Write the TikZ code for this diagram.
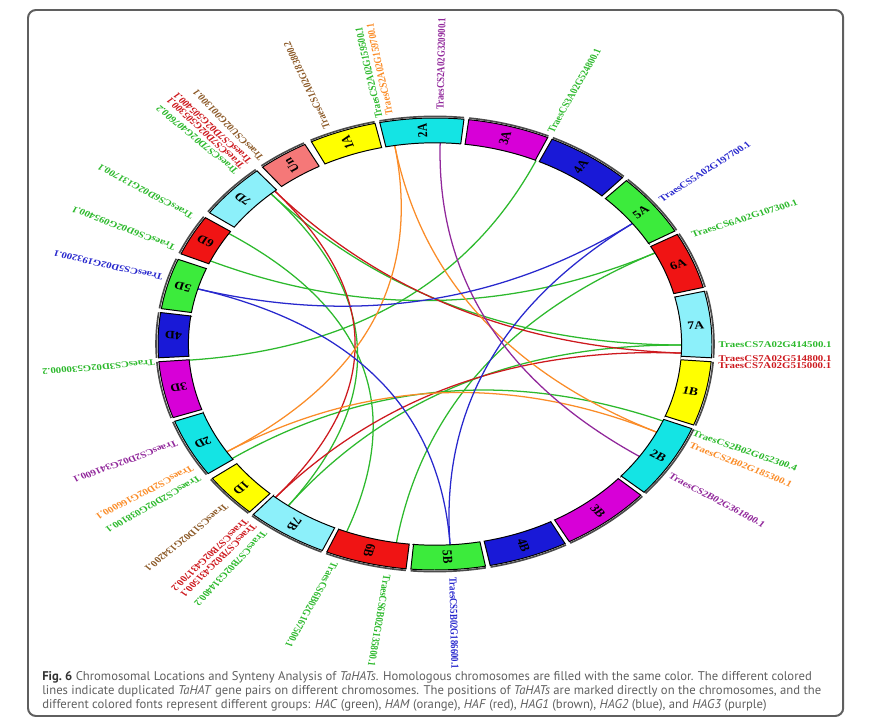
\documentclass[tikz,border=0pt]{standalone}
\usepackage{fontspec}
\setmainfont{Liberation Serif}
\newfontfamily\capfont{PT Sans}
\usetikzlibrary{calc}

% chromosome fills
\definecolor{chone}{RGB}{255,255,0}
\definecolor{chtwo}{RGB}{20,228,228}
\definecolor{chthree}{RGB}{215,0,215}
\definecolor{chfour}{RGB}{25,25,215}
\definecolor{chfive}{RGB}{60,235,60}
\definecolor{chsix}{RGB}{240,20,20}
\definecolor{chseven}{RGB}{140,240,250}
\definecolor{chun}{RGB}{245,120,120}
% groups
\definecolor{hac}{RGB}{45,185,45}
\definecolor{ham}{RGB}{250,140,40}
\definecolor{haf}{RGB}{205,25,30}
\definecolor{hagone}{RGB}{140,90,40}
\definecolor{hagtwo}{RGB}{40,40,205}
\definecolor{hagthree}{RGB}{145,40,155}
\definecolor{framegray}{RGB}{95,95,95}
\definecolor{capgray}{RGB}{95,95,95}

\tikzset{
  chrom/.style={draw=black, line width=0.7pt},
  tickband/.style={draw=black!70, line width=1.2pt},
  chromlab/.style={font=\bfseries\fontsize{8}{8}\selectfont, inner sep=0pt},
  gene/.style={font=\bfseries\fontsize{6.3}{6.3}\selectfont, anchor=west, inner sep=0pt},
  link/.style={line width=0.9pt},
  captext/.style={anchor=west, inner sep=0pt, text=capgray, font=\capfont\fontsize{9}{10}\selectfont}
}

\begin{document}
\begin{tikzpicture}
\useasboundingbox (0,0) rectangle (21.8,18.15);
\draw[framegray, line width=1.4pt, rounded corners=0.2cm] (0.7,0.25) rectangle (21.08,17.9);

\begin{scope}[shift={(10.875,9.55)}, xscale=1.2257, transform shape]
  \coordinate (O) at (0,0);

  % link ends on the inner edge
  \foreach \n/\a in {g3A/65.8, g3D/184.6, g2D/214.7, g2B/337.5, g7D/131.7, g7A/359.7,
      g7B/233.5, g6A/26.9, g6Da/146.7, g6Db/155.6, g6Ba/249, g6Bb/261,
      r7D/130.5, r7A/357.4, r7B/229.7, o2A/99.4, o2D/212.4, o2B/334,
      p2A/88.8, p2B/326, b5A/36.8, b5D/164.1, b5B/273.5}
    \coordinate (\n) at (\a:5.03);

  % duplicated pairs
  \foreach \p/\q/\c in {g3A/g3D/hac, g2D/g2B/hac, g7D/g7A/hac, g7D/g7B/hac, g7B/g7A/hac,
      g6A/g6Db/hac, g6A/g6Bb/hac, g6Da/g6Ba/hac,
      r7D/r7A/haf, r7D/r7B/haf, r7B/r7A/haf,
      o2A/o2D/ham, o2A/o2B/ham, o2D/o2B/ham,
      p2A/p2B/hagthree,
      b5A/b5D/hagtwo, b5A/b5B/hagtwo, b5D/b5B/hagtwo}
    \draw[link, \c] (\p) .. controls ($(\p)!0.667!(O)$) and ($(\q)!0.667!(O)$) .. (\q);

  % chromosomes
  \foreach \name/\sa/\ea/\col in {1A/102.5/116.5/chone, Un/118/128.5/chun, 7D/130/144.5/chseven,
      6D/146/156.5/chsix, 5D/158/171/chfive, 4D/172/183.5/chfour, 3D/184.5/199/chthree,
      2D/200/215/chtwo, 1D/216.5/228/chone, 7B/229/246/chseven, 6B/247/264/chsix,
      5B/265/280.5/chfive, 4B/281.5/298/chfour, 3B/299/318/chthree, 2B/319/338/chtwo,
      1B/339/355.5/chone, 7A/356.5/373.5/chseven, 6A/14.5/29/chsix, 5A/30/46.3/chfive,
      4A/47.4/65/chfour, 3A/66/83/chthree, 2A/84/101.5/chtwo} {
    \draw[chrom, fill=\col] (\sa:5.03) -- (\sa:5.65) arc[start angle=\sa, end angle=\ea, radius=5.65]
      -- (\ea:5.03) arc[start angle=\ea, end angle=\sa, radius=5.03] -- cycle;
    \draw[tickband] (\sa:5.69) arc[start angle=\sa, end angle=\ea, radius=5.69];
    \pgfmathsetmacro\mid{(\sa+\ea)/2}
    \node[chromlab, rotate=\mid] (c\name) at (\mid:5.34) {\name};
  }

  % gene names
  \foreach \a/\r/\rot/\c/\txt [count=\i] in {
      112.2/5.82/111/hagone/TraesCS1A02G183800.2,
      101.4/5.76/100.5/hac/TraesCS2A02G159500.1,
      99.2/5.80/100/ham/TraesCS2A02G159700.1,
      89/5.85/89/hagthree/TraesCS2A02G320900.1,
      66/5.78/65/hac/TraesCS3A02G524800.1,
      38.1/5.83/38/hagtwo/TraesCS5A02G197700.1,
      27.5/5.90/21/hac/TraesCS6A02G107300.1,
      -0.25/5.78/0/hac/TraesCS7A02G414500.1,
      -3.5/5.79/0/haf/TraesCS7A02G514800.1,
      -5.4/5.80/0/haf/TraesCS7A02G515000.1,
      -22.9/5.71/-22.9/hac/TraesCS2B02G052300.4,
      -25.9/5.78/-25.4/ham/TraesCS2B02G185300.1,
      -34.4/5.80/-33/hagthree/TraesCS2B02G361800.1,
      -86.4/5.84/-89/hagtwo/TraesCS5B02G186600.1,
      -99.6/5.86/-98/hac/TraesCS6B02G135800.1,
      -110.4/5.84/-114.7/hac/TraesCS6B02G167500.1,
      -126.4/5.84/-127.7/hac/TraesCS7B02G314400.2,
      -129.1/5.83/-130/haf/TraesCS7B02G431500.1,
      -131.1/5.84/-130.8/haf/TraesCS7B02G431700.2,
      -136.5/5.85/-135.4/hagone/TraesCS1D02G134200.1,
      -145/5.85/-145.6/hac/TraesCS2D02G038100.1,
      -147.9/5.83/-148/ham/TraesCS2D02G166000.1,
      -154.8/5.81/-156.4/hagthree/TraesCS2D02G341600.1,
      184.7/5.73/185.6/hac/TraesCS3D02G530000.2,
      163.4/5.79/164.5/hagtwo/TraesCS5D02G193200.1,
      155.6/5.82/155/hac/TraesCS6D02G095400.1,
      147.3/5.87/146.4/hac/TraesCS6D02G131700.1,
      133.4/5.88/134.3/hac/TraesCS7D02G407600.2,
      131.7/5.89/131.2/haf/TraesCS7D02G505300.1,
      129.8/5.89/131.5/haf/TraesCS7D02G505400.1,
      127.5/5.80/128.5/hagone/TraesCSU02G001300.1}
    \node[gene, text=\c, rotate=\rot] (g\i) at (\a:\r) {\txt};
\end{scope}

% caption
\node[captext] (cap1) at (1.05,1.225) {{\bfseries\color{black!80}Fig.~6} Chromosomal Locations and Synteny Analysis of \textit{TaHATs}. Homologous chromosomes are filled with the same color. The different colored};
\node[captext] (cap2) at (1.05,0.875) {lines indicate duplicated \textit{TaHAT} gene pairs on different chromosomes. The positions of \textit{TaHATs} are marked directly on the chromosomes, and the};
\node[captext] (cap3) at (1.05,0.525) {different colored fonts represent different groups: \textit{HAC} (green), \textit{HAM} (orange), \textit{HAF} (red), \textit{HAG1} (brown), \textit{HAG2} (blue), and \textit{HAG3} (purple)};
\end{tikzpicture}
\end{document}
